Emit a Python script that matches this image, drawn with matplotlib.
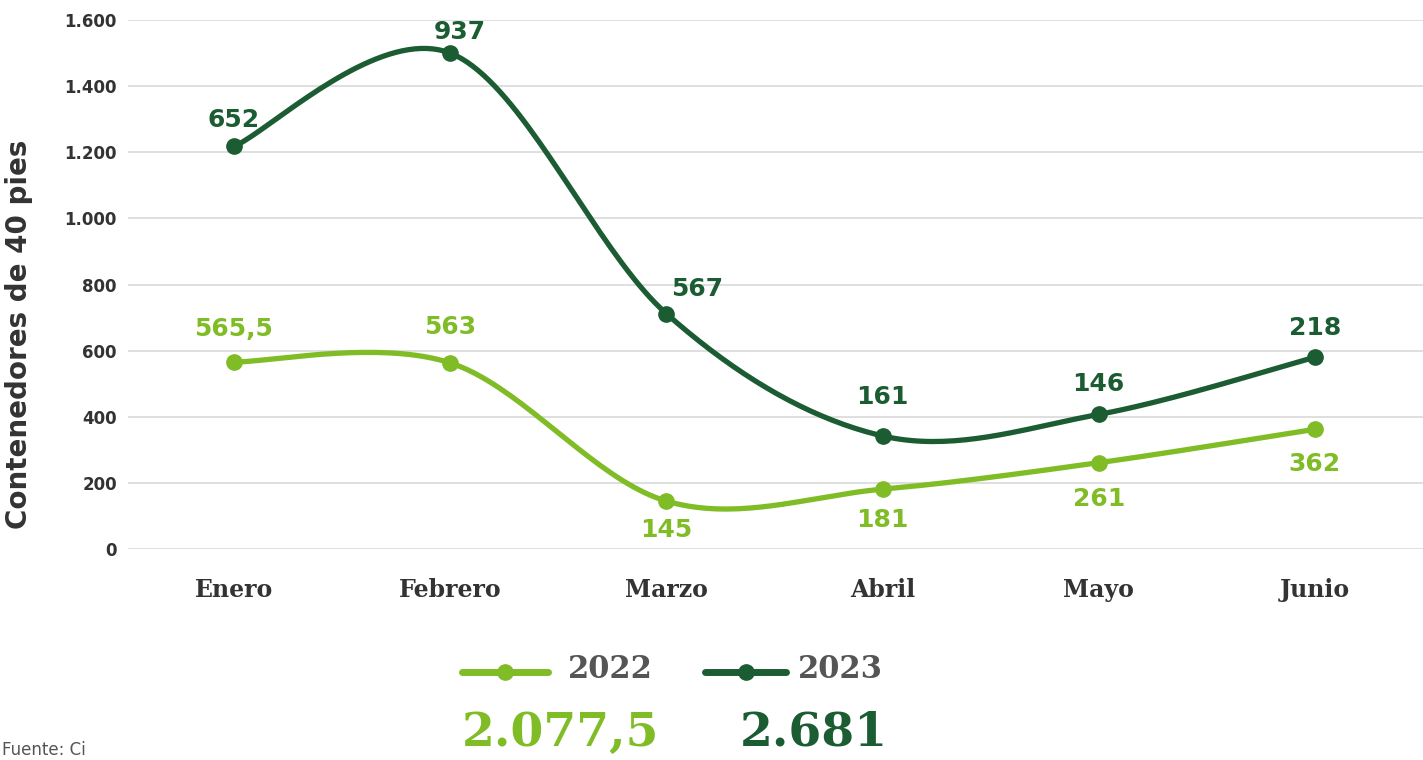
import numpy as np
import matplotlib
matplotlib.use("Agg")
import matplotlib.pyplot as plt
from matplotlib.lines import Line2D
from matplotlib.ticker import FuncFormatter

# ---- data ----
months = ["Enero", "Febrero", "Marzo", "Abril", "Mayo", "Junio"]
v2022 = [565.5, 563, 145, 181, 261, 362]
v2023 = [652, 937, 567, 161, 146, 218]
labels2022 = ["565,5", "563", "145", "181", "261", "362"]
labels2023 = ["652", "937", "567", "161", "146", "218"]
total2022 = "2.077,5"
total2023 = "2.681"
yticks = [0, 200, 400, 600, 800, 1000, 1200, 1400, 1600]

C22 = "#80BC26"
C23 = "#1B5C33"
TXT = "#333333"

def smooth(xs, ys, n=40):
    xs = np.asarray(xs, float); ys = np.asarray(ys, float)
    P = np.column_stack([xs, ys])
    P = np.vstack([P[0], P, P[-1]])
    out = []
    for i in range(1, len(P) - 2):
        p0, p1, p2, p3 = P[i - 1], P[i], P[i + 1], P[i + 2]
        c1 = p1 + (p2 - p0) / 6.0
        c2 = p2 - (p3 - p1) / 6.0
        t = np.linspace(0, 1, n)[:, None]
        seg = ((1 - t) ** 3) * p1 + 3 * ((1 - t) ** 2) * t * c1 + 3 * (1 - t) * t ** 2 * c2 + t ** 3 * p2
        out.append(seg if i == 1 else seg[1:])
    s = np.vstack(out)
    return s[:, 0], s[:, 1]

x = np.arange(len(months))
y22 = np.array(v2022)
y23 = y22 + np.array(v2023)  # stacked

W, H = 1423, 760
fig = plt.figure(figsize=(W / 100, H / 100), dpi=100)
ax = fig.add_axes([128 / W, 1 - 549 / H, 1 - 128 / W, (549 - 20) / H])

for ys, c in [(y22, C22), (y23, C23)]:
    sx, sy = smooth(x, ys)
    ax.plot(sx, sy, color=c, lw=3.8, solid_capstyle="round", zorder=3)
    ax.plot(x, ys, "o", color=c, ms=11, zorder=4)

ax.set_xlim(-0.49, 5.5)
ax.set_ylim(0, 1600)
ax.set_yticks(yticks)
ax.yaxis.set_major_formatter(FuncFormatter(lambda v, p: f"{int(v):,}".replace(",", ".")))
ax.grid(axis="y", color="#d9d9d9", lw=1.2)
ax.set_axisbelow(True)
for s in ax.spines.values():
    s.set_visible(False)
ax.tick_params(axis="both", length=0)
ax.tick_params(axis="y", pad=8, labelsize=12, labelcolor=TXT)
for t in ax.get_yticklabels():
    t.set_fontweight("bold")
ax.set_xticks(x)
ax.set_xticklabels(months, fontsize=17, fontweight="bold", color=TXT, family="DejaVu Serif")
ax.tick_params(axis="x", pad=21)
ax.set_ylabel("Contenedores de 40 pies", fontsize=20, fontweight="bold", color=TXT)
ax.yaxis.set_label_coords(-0.073, 0.405)

# data labels
off22 = [(0, 24), (0, 26), (0, -21), (0, -22), (0, -26), (0, -25)]
off23 = [(0, 19), (7, 15), (22, 18), (0, 28), (0, 22), (0, 21)]
for i in range(len(months)):
    ax.annotate(labels2022[i], (x[i], y22[i]), xytext=off22[i], textcoords="offset points",
                ha="center", va="center", fontsize=18, fontweight="bold", color=C22, zorder=5)
    ax.annotate(labels2023[i], (x[i], y23[i]), xytext=off23[i], textcoords="offset points",
                ha="center", va="center", fontsize=18, fontweight="bold", color=C23, zorder=5)

# custom legend
def fx(px): return px / W
def fy(py): return 1 - py / H

for (x0, x1, xm, c, yr, tx) in [
    (462, 548, 505, C22, "2022", 568),
    (705, 786, 746, C23, "2023", 798),
]:
    fig.add_artist(Line2D([fx(x0), fx(x1)], [fy(672), fy(672)], color=c, lw=5, solid_capstyle="round"))
    fig.add_artist(Line2D([fx(xm)], [fy(672)], marker="o", color=c, ms=11))
    fig.text(fx(tx), fy(670), yr, fontsize=22, fontweight="bold", color="#555555",
             family="DejaVu Serif", ha="left", va="center")

fig.text(fx(462), fy(733), total2022, fontsize=34, fontweight="bold", color=C22,
         family="DejaVu Serif", ha="left", va="center")
fig.text(fx(740), fy(733), total2023, fontsize=34, fontweight="bold", color=C23,
         family="DejaVu Serif", ha="left", va="center")

fig.text(fx(2), fy(750), "Fuente: Ci", fontsize=12, color="#555555", ha="left", va="center")

fig.savefig("out.png", dpi=100)
